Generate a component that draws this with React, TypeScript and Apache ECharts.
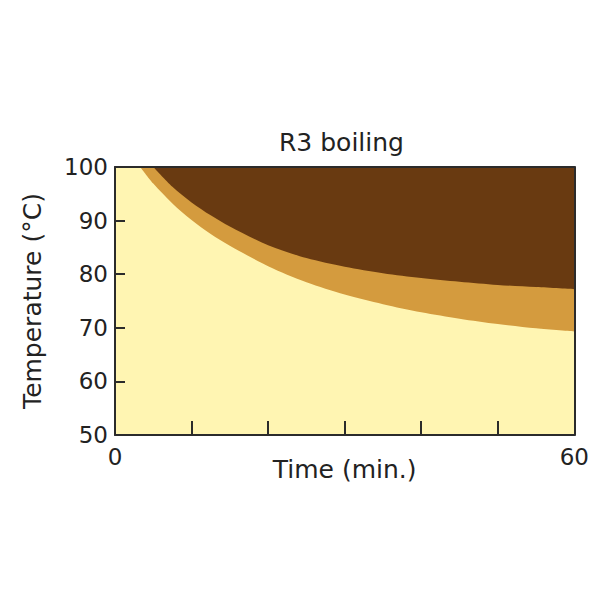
import React, { useEffect, useRef } from "react";
import * as echarts from "echarts";

// Time (min.) and temperature (°C) of the lower boundary of the orange band
const lowerTime = [3.3, 5, 7.5, 10, 12.5, 15, 20, 25, 30, 35, 40, 45, 50, 55, 60];
const lowerTemp = [100, 96.9, 93.2, 90.1, 87.5, 85.3, 81.5, 78.5, 76.2, 74.4, 72.9, 71.7, 70.7, 69.9, 69.3];
// Upper boundary (orange band / dark region)
const upperTime = [5, 7.5, 10, 12.5, 15, 20, 25, 30, 35, 40, 45, 50, 55, 60];
const upperTemp = [100, 96.3, 93.4, 91.0, 88.9, 85.4, 83.0, 81.4, 80.2, 79.3, 78.6, 78.0, 77.6, 77.2];

const xLabels = ["0", "60"];
const title = "R3 boiling";

const FONT = "DejaVu Sans";

export default function App() {
  const ref = useRef<HTMLDivElement>(null);
  useEffect(() => {
    if (!ref.current) return;
    const chart = echarts.init(ref.current, undefined, { renderer: "svg" });
    const axisColor = "#2b2b2b";
    chart.setOption({
      animation: false,
      backgroundColor: "#ffffff",
      title: {
        text: title,
        left: 266,
        top: 117,
        textStyle: { fontFamily: FONT, fontSize: 25, fontWeight: "normal", color: "#222" },
      },
      grid: {
        left: 107,
        right: 17,
        top: 159,
        bottom: 157,
        show: true,
        backgroundColor: "#FFF5B2",
        borderWidth: 0,
      },
      xAxis: [
        {
          type: "value",
          min: 0,
          max: 60,
          interval: 10,
          z: 5,
          name: "Time (min.)",
          nameLocation: "middle",
          nameGap: 22,
          nameMoveOverlap: false,
          nameTextStyle: { fontFamily: FONT, fontSize: 25, color: "#222", verticalAlign: "top" },
          axisLine: { show: true, lineStyle: { color: axisColor, width: 2 } },
          axisTick: { show: true, inside: true, length: 14, lineStyle: { color: axisColor, width: 2 } },
          axisLabel: {
            fontFamily: FONT,
            fontSize: 23,
            color: "#222",
            margin: 10,
            formatter: (v: number) => (xLabels.includes(String(v)) ? String(v) : ""),
          },
          splitLine: { show: false },
        },
        {
          type: "value",
          position: "top",
          min: 0,
          max: 60,
          z: 5,
          axisLine: { show: true, onZero: false, lineStyle: { color: axisColor, width: 2 } },
          axisTick: { show: false },
          axisLabel: { show: false },
          splitLine: { show: false },
        },
      ],
      yAxis: [
        {
          type: "value",
          min: 50,
          max: 100,
          interval: 10,
          z: 5,
          name: "Temperature (°C)",
          nameLocation: "middle",
          nameGap: 70,
          nameMoveOverlap: false,
          nameTextStyle: { fontFamily: FONT, fontSize: 25, color: "#222" },
          axisLine: { show: true, lineStyle: { color: axisColor, width: 2 } },
          axisTick: { show: true, inside: true, length: 10, lineStyle: { color: axisColor, width: 2 } },
          axisLabel: { fontFamily: FONT, fontSize: 23, color: "#222", margin: 7 },
          splitLine: { show: false },
        },
        {
          type: "value",
          position: "right",
          min: 50,
          max: 100,
          z: 5,
          axisLine: { show: true, onZero: false, lineStyle: { color: axisColor, width: 2 } },
          axisTick: { show: false },
          axisLabel: { show: false },
          splitLine: { show: false },
        },
      ],
      series: [
        {
          type: "line",
          data: lowerTime.map((t, i) => [t, lowerTemp[i]]),
          smooth: 0.3,
          symbol: "none",
          lineStyle: { width: 0 },
          areaStyle: { origin: "end", color: "#D49B3E", opacity: 1 },
          z: 2,
        },
        {
          type: "line",
          data: upperTime.map((t, i) => [t, upperTemp[i]]),
          smooth: 0.3,
          symbol: "none",
          lineStyle: { width: 0 },
          areaStyle: { origin: "end", color: "#693A11", opacity: 1 },
          z: 3,
        },
      ],
    });
    return () => chart.dispose();
  }, []);
  return <div ref={ref} style={{ width: 584, height: 584 }} />;
}
